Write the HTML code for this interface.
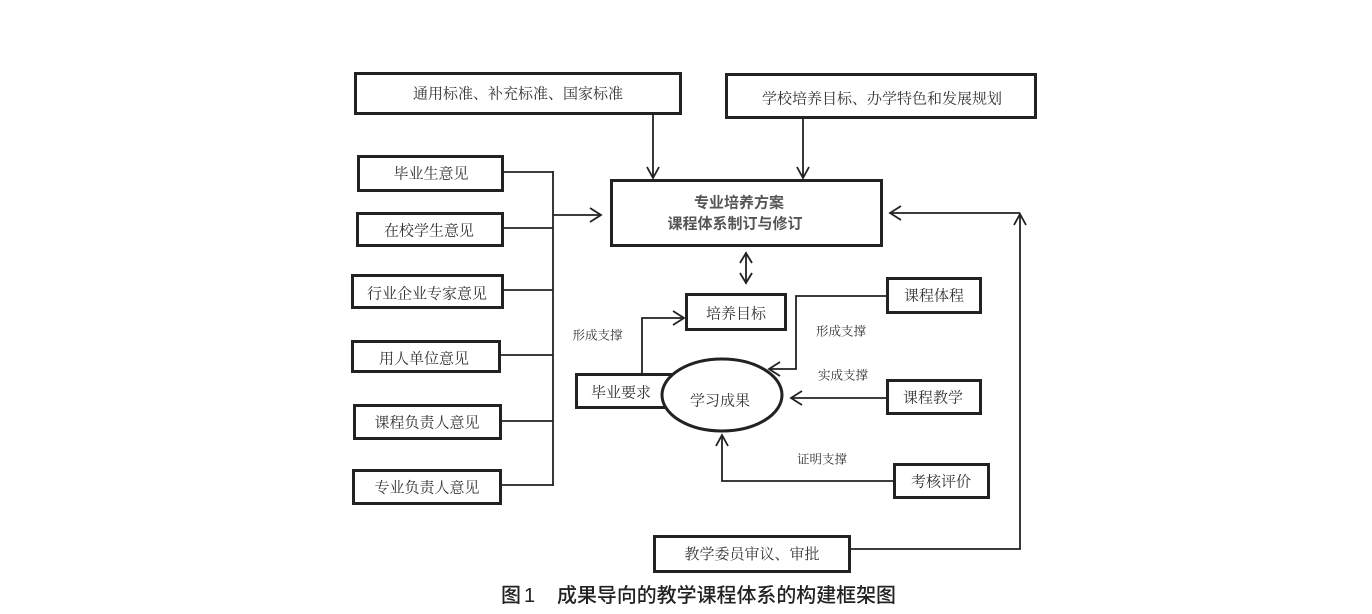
<!DOCTYPE html>
<html>
<head>
<meta charset="utf-8">
<style>
  html, body { margin: 0; padding: 0; background: #ffffff; }
  body { width: 1372px; height: 614px; overflow: hidden; }
  svg { display: block; }
  .lbl { font-family: "Liberation Serif", "Noto Serif CJK SC", "Noto Serif CJK JP", serif; font-size: 15px; fill: #333; text-anchor: middle; }
  .sm { font-family: "Liberation Serif", "Noto Serif CJK SC", "Noto Serif CJK JP", serif; font-size: 12.5px; fill: #333; text-anchor: middle; }
  .main { font-family: "Liberation Sans", "Noto Sans CJK SC", sans-serif; font-size: 15px; font-weight: bold; fill: #555; text-anchor: middle; }
  .cap { font-family: "Liberation Sans", "Noto Sans CJK SC", sans-serif; font-size: 20px; font-weight: 500; fill: #222; }
</style>
</head>
<body>
<svg width="1372" height="614" viewBox="0 0 1372 614" xmlns="http://www.w3.org/2000/svg">
  <rect x="0" y="0" width="1372" height="614" fill="#fff"/>

  <!-- connectors -->
  <g fill="none" stroke="#222" stroke-width="1.8">
    <line x1="653" y1="115" x2="653" y2="178"/>
    <path d="M647 167 L653 178 L659 167"/>
    <line x1="803" y1="119" x2="803" y2="178"/>
    <path d="M797 167 L803 178 L809 167"/>

    <line x1="504" y1="172" x2="553" y2="172"/>
    <line x1="504" y1="228" x2="553" y2="228"/>
    <line x1="504" y1="290" x2="553" y2="290"/>
    <line x1="501" y1="355" x2="553" y2="355"/>
    <line x1="502" y1="421" x2="553" y2="421"/>
    <line x1="502" y1="485" x2="553" y2="485"/>
    <line x1="553" y1="171" x2="553" y2="486"/>
    <line x1="553" y1="215" x2="601" y2="215"/>
    <path d="M590 208 L601 215 L590 222"/>

    <line x1="746" y1="253" x2="746" y2="283"/>
    <path d="M740 263 L746 253 L752 263"/>
    <path d="M740 273 L746 283 L752 273"/>

    <polyline points="642,373 642,318 684,318"/>
    <path d="M673 311 L684 318 L673 325"/>

    <polyline points="886,296 796,296 796,369 769,369"/>
    <path d="M780 362 L769 369 L780 376"/>

    <line x1="886" y1="398" x2="791" y2="398"/>
    <path d="M802 391 L791 398 L802 405"/>

    <polyline points="893,481 722,481 722,435"/>
    <path d="M716 446 L722 435 L728 446"/>

    <polyline points="851,549 1020,549 1020,214"/>
    <path d="M1014 225 L1020 214 L1026 225"/>
    <line x1="1020" y1="213" x2="890" y2="213"/>
    <path d="M901 206 L890 213 L901 220"/>
  </g>

  <!-- boxes -->
  <g fill="#fff" stroke="#222" stroke-width="3">
    <rect x="355.5" y="73.5" width="325" height="40"/>
    <rect x="726.5" y="74.5" width="309" height="43"/>
    <rect x="611.5" y="180.5" width="270" height="65"/>
    <rect x="358.5" y="156.5" width="144" height="34"/>
    <rect x="357.5" y="213.5" width="145" height="32"/>
    <rect x="352.5" y="275.5" width="150" height="32"/>
    <rect x="352.5" y="341.5" width="147" height="30"/>
    <rect x="354.5" y="405.5" width="146" height="33"/>
    <rect x="353.5" y="470.5" width="147" height="33"/>
    <rect x="686.5" y="294.5" width="99" height="35"/>
    <rect x="576.5" y="374.5" width="100" height="33"/>
    <ellipse cx="722" cy="395" rx="60" ry="36"/>
    <rect x="887.5" y="278.5" width="93" height="34"/>
    <rect x="887.5" y="380.5" width="93" height="33"/>
    <rect x="894.5" y="464.5" width="94" height="33"/>
    <rect x="654.5" y="536.5" width="195" height="35"/>
  </g>

  <!-- box labels -->
  <text class="lbl" x="518" y="98.5">通用标准、补充标准、国家标准</text>
  <text class="lbl" x="882" y="103.5">学校培养目标、办学特色和发展规划</text>
  <text class="main" x="739" y="207.5">专业培养方案</text>
  <text class="main" x="735" y="228.5">课程体系制订与修订</text>
  <text class="lbl" x="431" y="178.5">毕业生意见</text>
  <text class="lbl" x="429" y="235.5">在校学生意见</text>
  <text class="lbl" x="427" y="298.5">行业企业专家意见</text>
  <text class="lbl" x="424" y="363.5">用人单位意见</text>
  <text class="lbl" x="427" y="427.5">课程负责人意见</text>
  <text class="lbl" x="427" y="492.5">专业负责人意见</text>
  <text class="lbl" x="736" y="318.5">培养目标</text>
  <text class="lbl" x="621" y="397.5">毕业要求</text>
  <text class="lbl" x="720" y="405.5">学习成果</text>
  <text class="lbl" x="934" y="300.5">课程体程</text>
  <text class="lbl" x="933" y="402.5">课程教学</text>
  <text class="lbl" x="941" y="486.5">考核评价</text>
  <text class="lbl" x="752" y="559">教学委员审议、审批</text>

  <!-- small labels -->
  <text class="sm" x="597.5" y="339.5">形成支撑</text>
  <text class="sm" x="841" y="335.5">形成支撑</text>
  <text class="sm" x="843" y="379.5">实成支撑</text>
  <text class="sm" x="822" y="463.5">证明支撑</text>

  <!-- caption -->
  <text class="cap" x="501" y="602">图</text>
  <text class="cap" x="524" y="602">1</text>
  <text class="cap" x="557" y="602" textLength="339" lengthAdjust="spacingAndGlyphs">成果导向的教学课程体系的构建框架图</text>
</svg>
</body>
</html>
